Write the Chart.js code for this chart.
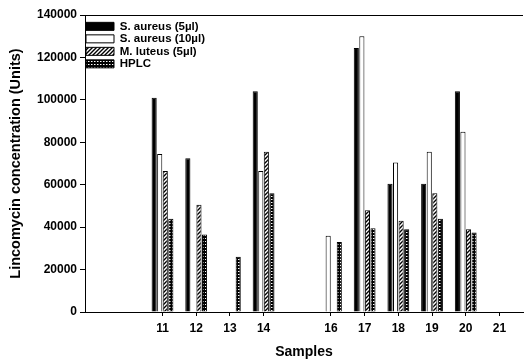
<!DOCTYPE html>
<html>
<head>
<meta charset="utf-8">
<script src="https://cdn.jsdelivr.net/npm/chart.js@4/dist/chart.umd.min.js"></script>
<style>
  html, body { margin: 0; padding: 0; background: #fff; }
  #wrap { width: 525px; height: 361px; }
</style>
</head>
<body>
<div id="wrap"><canvas id="c" width="525" height="361"></canvas></div>
<script>
// ---- data ----
const samples   = [11, 12, 13, 14, 16, 17, 18, 19, 20, 21];
const saureus5  = [101000, 72500, null, 104000, null, 124500, 60500, 60500, 104000, null];
const saureus10 = [74500, null, null, 66500, 36000, 130000, 70500, 75500, 85000, null];
const mluteus5  = [66500, 50500, null, 75500, null, 48000, 43000, 56000, 39000, null];
const hplc      = [44000, 36500, 26000, 56000, 33000, 39500, 39000, 44000, 37500, null];
const tickLabels = [11, 12, 13, 14, 16, 17, 18, 19, 20, 21];
const seriesNames = ['S. aureus (5\u00b5l)', 'S. aureus (10\u00b5l)', 'M. luteus (5\u00b5l)', 'HPLC'];

function toPoints(vals) {
  return samples.map((s, i) => ({ x: s, y: vals[i] }));
}

function hatchPattern() {
  const c = document.createElement('canvas');
  c.width = 4; c.height = 4;
  const g = c.getContext('2d');
  g.fillStyle = '#fff'; g.fillRect(0, 0, 4, 4);
  g.strokeStyle = '#000'; g.lineWidth = 1.4;
  g.beginPath();
  g.moveTo(-1, 5); g.lineTo(5, -1);
  g.moveTo(-1, 1); g.lineTo(1, -1);
  g.moveTo(3, 5); g.lineTo(5, 3);
  g.stroke();
  return g.createPattern(c, 'repeat');
}
function gridPattern() {
  const c = document.createElement('canvas');
  c.width = 3; c.height = 3;
  const g = c.getContext('2d');
  g.fillStyle = '#000'; g.fillRect(0, 0, 3, 3);
  g.fillStyle = '#fff'; g.fillRect(1, 1, 1.5, 1);
  return g.createPattern(c, 'repeat');
}

const FONT = "'Liberation Sans', Arial, sans-serif";

const topBorder = {
  id: 'topBorder',
  afterDraw(chart) {
    const a = chart.chartArea, ctx = chart.ctx;
    ctx.save();
    ctx.strokeStyle = '#000'; ctx.lineWidth = 1;
    ctx.beginPath();
    ctx.moveTo(a.left, a.top + 0.5); ctx.lineTo(a.right, a.top + 0.5);
    ctx.stroke();
    ctx.restore();
  }
};

new Chart(document.getElementById('c'), {
  type: 'bar',
  data: {
    datasets: [
      { label: seriesNames[0], data: toPoints(saureus5), backgroundColor: '#000', borderColor: '#000', borderWidth: 1 },
      { label: seriesNames[1], data: toPoints(saureus10), backgroundColor: '#fff', borderColor: '#000', borderWidth: 1 },
      { label: seriesNames[2], data: toPoints(mluteus5), backgroundColor: hatchPattern(), borderColor: '#000', borderWidth: 1 },
      { label: seriesNames[3], data: toPoints(hplc), backgroundColor: gridPattern(), borderColor: '#000', borderWidth: 1 }
    ]
  },
  options: {
    responsive: false,
    animation: false,
    devicePixelRatio: 1,
    layout: { padding: { top: 15, right: 2, left: 0, bottom: 0 } },
    datasets: { bar: { categoryPercentage: 0.66, barPercentage: 0.92 } },
    plugins: {
      tooltip: { enabled: false },
      legend: {
        position: 'chartArea',
        align: 'start',
        title: { display: true, text: ' ', padding: { top: 16, bottom: 0 }, font: { size: 3 } },
        labels: {
          boxWidth: 28, boxHeight: 8, padding: 1,
          color: '#000',
          font: { family: FONT, size: 11.5, weight: 'bold' }
        }
      }
    },
    scales: {
      x: {
        type: 'linear',
        offset: false,
        min: 8.7, max: 21.7,
        afterBuildTicks(scale) { scale.ticks = tickLabels.map(v => ({ value: v })); },
        afterFit(scale) { scale.height = 49; },
        grid: { display: true, offset: false, drawOnChartArea: false, drawTicks: true, tickLength: 4, color: '#000' },
        border: { display: true, color: '#000', width: 1 },
        ticks: { color: '#000', padding: 5, maxRotation: 0, autoSkip: false,
                 font: { family: FONT, size: 12, weight: 'bold' },
                 callback: v => String(v) },
        title: { display: true, text: 'Samples', color: '#000', padding: { top: 0, bottom: 0 },
                 font: { family: FONT, size: 14, weight: 'bold' } }
      },
      y: {
        min: 0, max: 140000,
        afterFit(scale) { scale.width = 85; },
        grid: { display: true, drawOnChartArea: false, drawTicks: true, tickLength: 5, color: '#000' },
        border: { display: true, color: '#000', width: 1 },
        ticks: { stepSize: 20000, color: '#000', padding: 3,
                 font: { family: FONT, size: 12, weight: 'bold' },
                 callback: v => String(v) },
        title: { display: true, text: 'Lincomycin concentration (Units)', color: '#000',
                 padding: { top: 7, bottom: 0 },
                 font: { family: FONT, size: 14.5, weight: 'bold' } }
      }
    }
  },
  plugins: [topBorder]
});
</script>
</body>
</html>
